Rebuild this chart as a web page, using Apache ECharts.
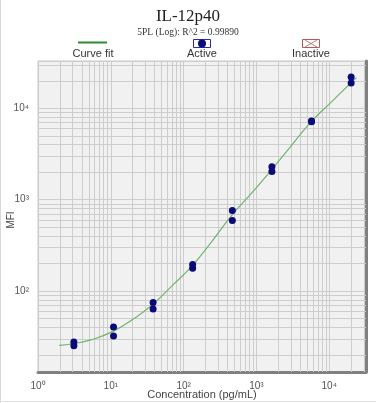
<!DOCTYPE html>
<html>
<head>
<meta charset="utf-8">
<script src="https://cdn.jsdelivr.net/npm/echarts@6/dist/echarts.min.js"></script>
<style>
html,body{margin:0;padding:0;background:#fff;}
#c{width:376px;height:403px;}
</style>
</head>
<body>
<div id="c"></div>
<script>
// ---- data ----
const concentrations = [3.11, 10.9, 38.1, 133, 467, 1633, 5714, 20000];
const activeRep1 = [27.7, 40.5, 75, 195, 760, 2300, 7260, 22100];
const activeRep2 = [25.2, 32.2, 63.5, 178, 591, 2030, 7130, 19000];
const fitConc = [1.95, 3.0, 5.5, 10.7, 19.7, 37.2, 67.6, 129, 242, 452, 862, 1615, 2985, 5640, 10670, 19950, 23700];
const fitMFI  = [25.4, 26.5, 29.4, 36.2, 48.5, 70.8, 112, 186, 346, 665, 1186, 2120, 3870, 7130, 11720, 19050, 21700];
const xMinorGrid = [2,3,4,5,6,7,8,9,20,30,40,50,60,70,80,90,200,300,400,500,600,700,800,900,2000,3000,4000,5000,6000,7000,8000,9000,20000,30000];
const yMinorGrid = [20,30,40,50,60,70,80,90,200,300,400,500,600,700,800,900,2000,3000,4000,5000,6000,7000,8000,9000,20000,30000];
const titleText = 'IL-12p40';
const subtitleText = '5PL (Log): R^2 = 0.99890';
const xName = 'Concentration (pg/mL)';
const yName = 'MFI';
const legendLabels = ['Curve fit', 'Active', 'Inactive'];

const sup = ['\u2070','\u00B9','\u00B2','\u00B3','\u2074','\u2075'];
function powLabel(v){
  const l = Math.log10(v), r = Math.round(l);
  if (Math.abs(l - r) > 1e-6) return '';
  return '10' + sup[r];
}
const activePoints = [];
concentrations.forEach((c,i)=>{ activePoints.push([c, activeRep1[i]]); activePoints.push([c, activeRep2[i]]); });
const fitPoints = fitConc.map((c,i)=>[c, fitMFI[i]]);

const gridColor = '#cdcdcd';
const chart = echarts.init(document.getElementById('c'), null, {renderer:'canvas'});
const sans = 'Liberation Sans, Arial, sans-serif';
chart.setOption({
  animation:false,
  backgroundColor:'#ffffff',
  title:{
    text:titleText, subtext:subtitleText, left:'center', top:3, itemGap:2,
    textStyle:{fontFamily:'Liberation Serif, Times New Roman, serif', fontSize:17, fontWeight:'normal', color:'#222'},
    subtextStyle:{fontFamily:'Liberation Serif, Times New Roman, serif', fontSize:9.5, color:'#333'}
  },
  grid:{left:38, right:10, top:61, bottom:31, containLabel:false, outerBoundsMode:'none',
        show:true, backgroundColor:'#f1f1f1', borderColor:'#c6c6c6', borderWidth:1},
  xAxis:{
    type:'log', logBase:10, min:1, max:32000,
    axisLine:{show:true, lineStyle:{color:'#808080', width:3}},
    axisTick:{show:false},
    axisLabel:{formatter:powLabel, fontFamily:sans, fontSize:10, color:'#555', margin:9, showMinLabel:true, showMaxLabel:false},
    splitLine:{show:true, lineStyle:{color:gridColor, width:1}}
  },
  yAxis:[{
    type:'log', logBase:10, min:13, max:33000,
    axisLine:{show:false},
    axisTick:{show:false},
    axisLabel:{formatter:powLabel, fontFamily:sans, fontSize:10, color:'#555', margin:9, showMinLabel:false, showMaxLabel:false},
    splitLine:{show:true, lineStyle:{color:gridColor, width:1}}
  },{
    type:'log', logBase:10, min:13, max:33000, position:'right',
    axisLine:{show:true, onZero:false, lineStyle:{color:'#808080', width:3}},
    axisTick:{show:false}, axisLabel:{show:false}, splitLine:{show:false}
  }],
  series:[
    {
      type:'line', data:[], z:1, silent:true,
      markLine:{
        z:1, silent:true, symbol:['none','none'], animation:false,
        label:{show:false},
        lineStyle:{color:gridColor, width:1, type:'solid'},
        emphasis:{disabled:true},
        data: xMinorGrid.map(v=>({xAxis:v})).concat(yMinorGrid.map(v=>({yAxis:v})))
      }
    },
    {
      type:'line', data:fitPoints, smooth:true, showSymbol:false, z:3,
      lineStyle:{color:'#6fb46f', width:1.2}
    },
    {
      type:'scatter', data:activePoints, symbol:'circle', symbolSize:7, z:6,
      itemStyle:{color:'#0a0a78', borderWidth:0, opacity:1}
    }
  ],
  graphic:[
    {type:'line', shape:{x1:0.5,y1:0,x2:0.5,y2:403}, style:{stroke:'#d8d8d8', lineWidth:1}},
    {type:'line', shape:{x1:0,y1:401.5,x2:376,y2:401.5}, style:{stroke:'#e0e0e0', lineWidth:1}},
    {type:'text', x:202, y:395, style:{text:xName, font:'11px '+sans, fill:'#444', textAlign:'center', textVerticalAlign:'middle'}},
    {type:'text', x:11, y:220, rotation:Math.PI/2, style:{text:yName, font:'10px '+sans, fill:'#444', textAlign:'center', textVerticalAlign:'middle'}},
    {type:'line', shape:{x1:78,y1:42.5,x2:107,y2:42.5}, style:{stroke:'#2e8b2e', lineWidth:2}},
    {type:'text', x:93, y:53.5, style:{text:legendLabels[0], font:'11px '+sans, fill:'#333', textAlign:'center', textVerticalAlign:'middle'}},
    {type:'rect', shape:{x:193.5,y:39.5,width:17,height:8}, style:{fill:'#ffffff', stroke:'#2a2ab0', lineWidth:1}},
    {type:'circle', shape:{cx:202,cy:43.5,r:4}, style:{fill:'#0a0a78'}},
    {type:'text', x:202, y:53.5, style:{text:legendLabels[1], font:'11px '+sans, fill:'#333', textAlign:'center', textVerticalAlign:'middle'}},
    {type:'rect', shape:{x:302.5,y:39.5,width:17,height:8}, style:{fill:'#ffffff', stroke:'#b05a5a', lineWidth:1}},
    {type:'line', shape:{x1:305,y1:40,x2:317,y2:47}, style:{stroke:'#b05a5a', lineWidth:0.8}},
    {type:'line', shape:{x1:305,y1:47,x2:317,y2:40}, style:{stroke:'#b05a5a', lineWidth:0.8}},
    {type:'text', x:311, y:53.5, style:{text:legendLabels[2], font:'11px '+sans, fill:'#333', textAlign:'center', textVerticalAlign:'middle'}}
  ]
});
</script>
</body>
</html>
